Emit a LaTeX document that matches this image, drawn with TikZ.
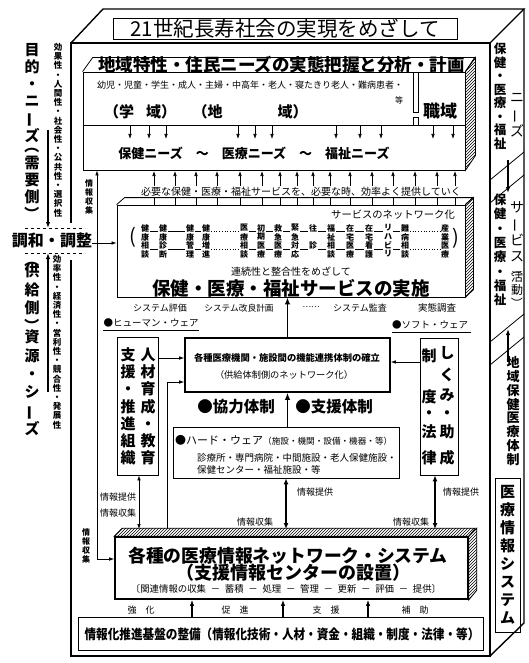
\documentclass[tikz,border=0pt]{standalone}
\usepackage{fontspec}
\setmainfont{Noto Sans CJK JP}
\usepackage{graphicx}
\usetikzlibrary{arrows.meta,patterns}
\newcommand\FSR[2]{\fontsize{#1}{#2}\selectfont}
\newcommand\FSB[2]{\fontsize{#1}{#2}\selectfont\bfseries}
\newcommand\VB{\rotatebox[origin=c]{90}{ー}}
\newcommand\VL{\rotatebox[origin=c]{-90}{（}}
\newcommand\VR{\rotatebox[origin=c]{-90}{）}}
\tikzset{
  frm/.style={line width=1.4pt},
  bx/.style={draw, line width=0.8pt, inner sep=0pt},
  thk/.style={draw, line width=1.6pt, inner sep=0pt},
  ln/.style={line width=0.8pt},
  ar/.style={-{Latex[length=5pt,width=3.6pt]}, line width=0.7pt},
  arb/.style={{Latex[length=5pt,width=3.6pt]}-{Latex[length=5pt,width=3.6pt]}, line width=0.7pt},
  tar/.style={-{Latex[length=7pt,width=5.5pt]}, line width=1.6pt},
  dar/.style={{Latex[length=6pt,width=5pt]}-{Latex[length=6pt,width=5pt]}, line width=1.6pt},
  mar/.style={-{Latex[length=6pt,width=4.5pt]}, line width=1.2pt},
  tx/.style={inner sep=0pt},
  vt/.style={inner sep=0pt, align=center},
  sv/.style={inner sep=0pt, font=\FSB{8}{8}},
  hatch/.style={pattern=north east lines},
}
\begin{document}
\begin{tikzpicture}[x=1pt,y=-1pt]
\useasboundingbox (0,0) rectangle (528,663);
% ---------- outer frame ----------
\coordinate (FTL) at (71,43);
\coordinate (FTR) at (490,43);
\coordinate (FBR) at (490,656);
\coordinate (FBL) at (71,656);
\coordinate (BTL) at (103,9);
\coordinate (BTR) at (524,9);
\coordinate (BBR) at (524,623);
\coordinate (GapT) at (71,223);
\coordinate (GapB) at (71,260);
\draw[frm] (FTL) -- (BTL) -- (BTR) -- (FTR);
\draw[frm] (BTR) -- (BBR) -- (FBR);
\draw[frm] (GapT) -- (FTL) -- (FTR) -- (FBR) -- (FBL) -- (GapB);
\node[bx, line width=0.9pt, minimum width=344, minimum height=21, font=\FSR{20.5}{20.5}] (title) at (285,28.5) {21世紀長寿社会の実現をめざして};

% ---------- right face ----------
\draw[ln] (490,180) -- (524,152);
\draw[ln] (490,203) -- (524,175);
\draw[mar] (508,160) -- (508,193);
\draw[ln] (490,342) -- (524,314);
\draw[ln] (490,365) -- (524,337);
\draw[mar] (508,362) -- (508,329);
\node[vt, font=\FSB{12.5}{13.5}] (rf1) at (500,96.5) {保\\健\\・\\医\\療\\・\\福\\祉};
\node[vt, font=\FSR{14}{17}] (rf2) at (517,115) {ニ\\\VB\\ズ};
\node[vt, font=\FSB{12.5}{14.3}] (rf3) at (500,250) {保\\健\\・\\医\\療\\・\\福\\祉};
\node[vt, font=\FSR{14}{16.5}] (rf4) at (517,231.5) {サ\\\VB\\ビ\\ス};
\node[vt, font=\FSR{12}{13}] (rf5) at (517,286) {\VL\\[-5pt]活\\動\\\VR};
\node[vt, font=\FSB{13}{13.8}] (rf6) at (513,411) {地\\域\\保\\健\\医\\療\\体\\制};
\node[bx, minimum width=25, minimum height=154] (mis) at (507.5,555) {};
\node[vt, font=\FSB{15}{18}] (mist) at (mis) {医\\療\\情\\報\\シ\\ス\\テ\\ム};

% ---------- left side ----------
\node[vt, font=\FSB{15}{17}, anchor=north] (lt1) at (32,43) {目\\的\\・\\ニ\\\VB\\ズ\\[-7pt]\VL\\需\\要\\側\\\VR};
\node[vt, font=\FSB{8.5}{9.2}, anchor=north] (lt2) at (58,43) {効\\果\\性\\・\\人\\間\\性\\・\\社\\会\\性\\・\\公\\共\\性\\・\\選\\択\\性};
\node[vt, font=\FSB{15}{18.3}, anchor=north] (lt3) at (32,252) {\VL\\[-7pt]供\\給\\側\\\VR\\[-7pt]資\\源\\・\\シ\\\VB\\ズ};
\node[vt, font=\FSB{8.5}{9.2}, anchor=north] (lt4) at (57,255) {効\\率\\性\\・\\経\\済\\性\\・\\営\\利\\性\\・\\競\\合\\性\\・\\発\\展\\性};
\node[tx, font=\FSB{16}{16}] (chowa) at (52,240) {調和・調整};
\coordinate (dA) at (25,228); \coordinate (dB) at (85,228);
\coordinate (dC) at (25,253); \coordinate (dD) at (85,253);
\draw[dashed, line width=0.6pt] (dA) -- (dB);
\draw[dashed, line width=0.6pt] (dC) -- (dD);
\coordinate (aTop) at (48,130); \coordinate (aBot) at (48,392);
\coordinate (cY) at (0,243);
\draw[mar] (aTop) -- (aTop |- dA);
\draw[mar] (aBot) -- (aBot |- dC);

% ---------- box 1 : needs ----------
\node[bx, minimum width=382, minimum height=98] (box1) at (274,121) {};
\draw[ln] (box1.north west) -- ++(10,-14) -- ++(382,0) -- (box1.north east);
\draw[ln, hatch] (box1.north east) -- ++(10,-14) -- ++(0,98) -- (box1.south east) -- cycle;
\node[tx, font=\FSB{17.5}{17.5}] (box1t) at (281.5,65) {地域特性・住民ニーズの実態把握と分析・計画};
\coordinate (sepY) at (0,125);
\draw[ln] (box1.west |- sepY) -- (box1.east |- sepY);
\draw[ln] (413,72) -- (413,112) -- (418,112) -- (418,72);
\draw[ln] (413,125) -- (413,117) -- (418,117) -- (418,125);
\node[tx, font=\FSR{9}{9}] (pop) at (250,85) {幼児・児童・学生・成人・主婦・中高年・老人・寝たきり老人・難病患者・};
\node[tx, font=\FSR{8}{8}] (etc1) at (399,100) {等};
\node[tx, font=\FSB{15}{15}] (gakuiki) at (140,112) {（学\hspace{12pt}域）};
\node[tx, font=\FSB{15}{15}] (chiiki) at (250,112) {（地\hspace{55pt}域）};
\node[tx, font=\FSB{17}{17}] (shokuiki) at (440,111) {職域};
\foreach \xx in {130,149,166,238,255,272,336,360,381,433,453} {\draw[ar] (\xx,126) -- (\xx,139);}
\node[tx, font=\FSB{13}{13}] (needs) at (254,153) {保健ニーズ　～　医療ニーズ　～　福祉ニーズ};

% ---------- between ----------
\node[tx, font=\FSR{10}{10}] (need2) at (301,192) {必要な保健・医療・福祉サービスを、必要な時、効率よく提供していく};
\foreach \xx in {154,175,196,217,240,262,280,297,313,330,350,372,393,415,437,455} {
  \draw[ar] (\xx,186) -- (\xx,171);
  \draw[line width=0.6pt] (\xx,198) -- (\xx,205);
}

% ---------- box 2 : services ----------
\node[bx, minimum width=348, minimum height=92] (box2) at (291,251) {};
\draw[ln] (box2.north west) -- ++(8,-7) -- ++(348,0) -- (box2.north east);
\draw[ln, hatch] (box2.north east) -- ++(8,-7) -- ++(0,92) -- (box2.south east) -- cycle;
\node[tx, font=\FSR{10.3}{10.3}, anchor=east] (netw) at (455,215) {サービスのネットワーク化};
\foreach \xx/\a/\b/\c/\d in {145/健/康/相/談,163/健/康/診/断,190/健/康/管/理,206/健/康/増/進,244/医/療/相/談,261/初/期/医/療,278/救/急/医/療,295/緊/急/対/応,331/福/祉/相/談,350/在/宅/医/療,369/在/宅/看/護,388/リ/ハ/ビ/リ,405/難/病/相/談,445/産/業/医/療}{
  \node[sv] (sa\xx) at (\xx,228) {\a};
  \node[sv] (sb\xx) at (\xx,237) {\b};
  \node[sv] (sc\xx) at (\xx,245.5) {\c};
  \node[sv] (sd\xx) at (\xx,254) {\d};
}
\node[sv] (sa313) at (313,228) {往};
\node[sv] (sc313) at (313,245.5) {診};
\foreach \p/\q in {145/163,163/190,190/206,244/261,261/278,278/295,295/313,313/331,331/350,350/369,369/388,388/405}{
  \draw[line width=0.5pt] (\p+5,231.5) -- (\q-5,231.5);
  \draw[line width=0.5pt] (\p+5,249) -- (\q-5,249);
}
\foreach \p/\q in {206/244,405/445}{
  \draw[line width=0.7pt, dotted] (\p+5,231.5) -- (\q-5,231.5);
  \draw[line width=0.7pt, dotted] (\p+5,249) -- (\q-5,249);
}
\node[tx, font=\FSR{20}{20}] (lpar) at (133,237) {(};
\node[tx, font=\FSR{20}{20}] (rpar) at (456,238) {)};
\node[tx, font=\FSR{10}{10}] (renzoku) at (291,272) {連続性と整合性をめざして};
\node[tx, font=\FSB{18.5}{18.5}] (jisshi) at (291,288.5) {保健・医療・福祉サービスの実施};
\draw[ar] (chowa.east |- cY) -- (box2.west |- cY);

% ---------- labels under box 2 ----------
\node[tx, font=\FSR{9}{9}] (hyoka) at (160,308) {システム評価};
\node[tx, font=\FSR{8.7}{8.7}] (kairyo) at (239,308) {システム改良計画};
\node[tx, font=\FSR{8}{8}] (tdots) at (311,307) {……};
\node[tx, font=\FSR{9}{9}] (kansa) at (360,308) {システム監査};
\node[tx, font=\FSR{9.5}{9.5}] (chosa) at (437,308) {実態調査};
\node[tx, font=\FSR{9.5}{9.5}] (human) at (151,323) {●ヒューマン・ウェア};
\draw[line width=0.7pt] ([yshift=-3pt]human.south west) -- ([yshift=-3pt]human.south east);
\node[tx, font=\FSR{9.5}{9.5}] (soft) at (430,325) {●ソフト・ウェア};
\draw[line width=0.7pt] ([yshift=-3pt]soft.south west) -- ([yshift=-3pt,xshift=3pt]soft.south east);

% ---------- middle boxes ----------
\node[bx, minimum width=41, minimum height=138] (lbox) at (137.5,406) {};
\node[vt, font=\FSB{15}{17.2}] (lbr) at (148,406.5) {人\\材\\育\\成\\・\\教\\育};
\node[vt, font=\FSB{15}{17.2}] (lbl) at (128,406.5) {支\\援\\・\\推\\進\\組\\織};
\node[bx, minimum width=38, minimum height=137] (rbox) at (439,406.5) {};
\foreach \yy/\ch [count=\i] in {353/し,375/く,395/み,415/・,432/助,458/成}{\node[tx, font=\FSB{15}{15}] (rr\i) at (447,\yy) {\ch};}
\foreach \yy/\ch [count=\i] in {356/制,397/度,415/・,432/法,458/律}{\node[tx, font=\FSB{15}{15}] (rl\i) at (429,\yy) {\ch};}
\node[thk, minimum width=205, minimum height=54] (cbox) at (287.5,365) {};
\node[tx, font=\FSB{9.3}{9.3}] (c1) at (287,358) {各種医療機関・施設間の機能連携体制の確立};
\node[tx, font=\FSR{9.2}{9.2}] (c2) at (284,375) {（供給体制側のネットワーク化）};
\node[tx, font=\FSB{15.5}{15.5}] (kyoryoku) at (236,407) {●協力体制};
\node[tx, font=\FSB{15.5}{15.5}] (shien) at (334,407) {●支援体制};
\node[bx, minimum width=226, minimum height=51] (hw) at (286,452.5) {};
\node[tx, anchor=west] (hw1) at (175,440) {\FSR{11}{11}●ハード・ウェア\FSR{8.6}{8.6}（施設・機関・設備・機器・等）};
\node[tx, anchor=west, font=\FSR{9.5}{9.5}] (hw2) at (197,458) {診療所・専門病院・中間施設・老人保健施設・};
\node[tx, anchor=west, font=\FSR{9.5}{9.5}] (hw3) at (197,470) {保健センター・福祉施設・等};

\coordinate (y358) at (0,358);
\coordinate (y362) at (0,362);
\coordinate (y382) at (0,382);
\draw[ar] (lbox.east |- y358) -- (cbox.west |- y358);
\draw[ar] (rbox.west |- y362) -- (cbox.east |- y362);
\draw[tar] (cbox.north) -- (cbox.north |- box2.south);
\draw[tar] (cbox.south |- hw.north) -- (cbox.south);

% ---------- bottom network box ----------
\node[thk, minimum width=353, minimum height=62] (nbox) at (291.5,568) {};
\draw[ln, hatch] (nbox.north west) -- ++(8,-8) -- ++(353,0) -- (nbox.north east) -- cycle;
\draw[ln, hatch] (nbox.north east) -- ++(8,-8) -- ++(0,62) -- (nbox.south east) -- cycle;
\node[tx, font=\FSB{17.8}{17.8}] (n1) at (288,556) {各種の医療情報ネットワーク・システム};
\node[tx, font=\FSB{18}{18}] (n2) at (293,573) {（支援情報センターの設置）};
\node[tx, font=\FSR{9.4}{9.4}] (n3) at (286,589) {〔関連情報の収集\enspace －\enspace 蓄積\enspace －\enspace 処理\enspace －\enspace 管理\enspace －\enspace 更新\enspace －\enspace 評価\enspace －\enspace 提供〕};
\coordinate (ntop) at (0,529);
\coordinate (x139) at (139,0);
\coordinate (x435) at (435,0);
\coordinate (x167) at (167,0);
\draw[arb] (x139 |- lbox.south) -- (x139 |- ntop);
\draw[dar] (hw.south) -- (hw.south |- ntop);
\draw[dar] (x435 |- rbox.south) -- (x435 |- ntop);
\draw[ar] (x167 |- ntop) -- (x167 |- y382) -- (cbox.west |- y382);
\coordinate (ix) at (97,559);
\draw[arb] (box1.south -| ix) -- (ix) -- (nbox.west |- ix);
\node[vt, font=\FSB{8}{9.2}] (ic1) at (89,197) {情\\報\\収\\集};
\node[vt, font=\FSB{8}{9.2}] (ic2) at (86,546) {情\\報\\収\\集};
\node[tx, font=\FSR{9}{9}] (lp1) at (118,497) {情報提供};
\node[tx, font=\FSR{9}{9}] (lc1) at (118,513) {情報収集};
\node[tx, font=\FSR{9}{9}] (lp2) at (315,492) {情報提供};
\node[tx, font=\FSR{9}{9}] (lc2) at (255,522) {情報収集};
\node[tx, font=\FSR{9}{9}] (lp3) at (461,492) {情報提供};
\node[tx, font=\FSR{9}{9}] (lc3) at (411,522) {情報収集};

% ---------- foundation ----------
\node[bx, minimum width=405, minimum height=33] (fbox) at (280.5,633.5) {};
\node[tx, font=\FSB{13.5}{13.5}, xscale=0.86] (ftxt) at (282,634) {情報化推進基盤の整備（情報化技術・人材・資金・組織・制度・法律・等）};
\node[tx, font=\FSR{9}{9}] (kyoka) at (141,610) {強\hspace{9pt}化};
\node[tx, font=\FSR{9}{9}] (sokushin) at (235,610) {促\hspace{9pt}進};
\node[tx, font=\FSR{9}{9}] (shien2) at (326,610) {支\hspace{9pt}援};
\node[tx, font=\FSR{9}{9}] (hojo) at (415,610) {補\hspace{9pt}助};
\foreach \xx in {192,283,368}{\draw[mar] (fbox.north -| \xx,0) -- (nbox.south -| \xx,0);}
\end{tikzpicture}
\end{document}
